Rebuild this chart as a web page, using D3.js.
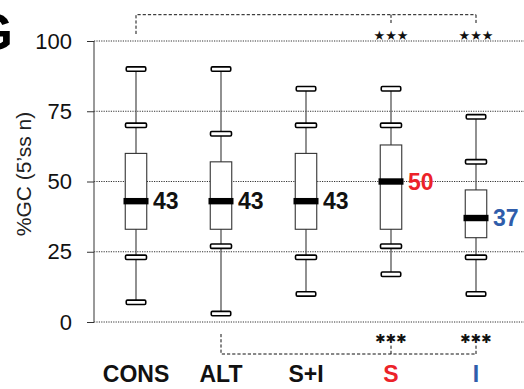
<!DOCTYPE html>
<html><head><meta charset="utf-8">
<script src="https://cdn.jsdelivr.net/npm/d3@7"></script>
<style>html,body{margin:0;padding:0;background:#fff;overflow:hidden}</style>
</head><body>
<svg id="c" width="524" height="389"></svg>
<script>
const categories = ["CONS","ALT","S+I","S","I"];
const whiskerLow  = [7, 3, 10, 17, 10];
const innerLow    = [23, 27, 23, 27, 23];
const q1          = [33, 33, 33, 33, 30];
const median      = [43, 43, 43, 50, 37];
const q3          = [60, 57, 60, 63, 47];
const innerHigh   = [70, 67, 70, 70, 57];
const whiskerHigh = [90, 90, 83, 83, 73];
const yTicks = [0, 25, 50, 75, 100];
const catColors = {"CONS":"#111","ALT":"#111","S+I":"#111","S":"#ec2229","I":"#2f5dab"};
const sigTopFrom = "CONS", sigTopTo = ["S","I"];
const sigBottomFrom = "ALT", sigBottomTo = ["S","I"];

const svg = d3.select("#c");
const x = d3.scalePoint().domain(categories).range([136, 476]);
const y = d3.scaleLinear().domain([0, 100]).range([322, 41]);
const font = "'Liberation Sans', Arial, Helvetica, sans-serif";

// gridlines (dotted)
svg.append("g").selectAll("line").data(yTicks).join("line")
  .attr("x1", 94).attr("x2", 524)
  .attr("y1", d => y(d)).attr("y2", d => y(d))
  .attr("stroke", "#333").attr("stroke-width", 1).attr("stroke-dasharray", "1.2,1.2");

// y axis
const yAxis = d3.axisLeft(y).tickValues(yTicks).tickSize(7).tickPadding(15).tickFormat(d3.format("d"));
const ag = svg.append("g").attr("transform", "translate(94,0)").call(yAxis);
ag.select(".domain").attr("stroke", "#555").attr("stroke-width", 1.2).attr("d", `M0,${y(100)}V${y(0)}`);
ag.selectAll(".tick line").attr("stroke", "#333").attr("stroke-width", 1);
ag.selectAll(".tick text").attr("font-family", font).attr("font-size", 22).attr("fill", "#111");

// y label
svg.append("text").attr("transform", `translate(31,${174}) rotate(-90)`)
  .attr("text-anchor", "middle").attr("font-family", font).attr("font-size", 21)
  .attr("fill", "#222").text("%GC (5\u2019ss n)");

// panel letter
svg.append("text").attr("x", 13).attr("y", 50).attr("text-anchor", "end")
  .attr("font-family", font).attr("font-weight", "bold").attr("font-size", 51)
  .attr("fill", "#000").text("G");

const data = categories.map((c, i) => ({c, wl: whiskerLow[i], il: innerLow[i], q1: q1[i], m: median[i], q3: q3[i], ih: innerHigh[i], wh: whiskerHigh[i]}));

const g = svg.append("g").selectAll("g").data(data).join("g")
  .attr("transform", d => `translate(${x(d.c)},0)`);

// whisker line
g.append("line").attr("x1", 0).attr("x2", 0)
  .attr("y1", d => y(d.wh)).attr("y2", d => y(d.wl))
  .attr("stroke", "#555").attr("stroke-width", 1.3);

// box
const bw = 21.5;
g.append("rect").attr("x", -bw/2).attr("width", bw)
  .attr("y", d => y(d.q3)).attr("height", d => y(d.q1) - y(d.q3))
  .attr("fill", "#fff").attr("stroke", "#333").attr("stroke-width", 1.1);

// median bar
g.append("rect").attr("x", -12.5).attr("width", 25)
  .attr("y", d => y(d.m) - 3.2).attr("height", 6.4).attr("fill", "#000");

// caps
function cap(key, w) {
  g.append("rect").attr("x", -w/2).attr("width", w)
    .attr("y", d => y(d[key]) - 2.2).attr("height", 4.4).attr("rx", 1.2)
    .attr("fill", "#fff").attr("stroke", "#000").attr("stroke-width", 1.6);
}
cap("wh", 19.5); cap("wl", 19.5); cap("ih", 21); cap("il", 21);

// median labels
g.append("text").attr("x", 17).attr("y", d => y(d.m)).attr("dy", "0.36em")
  .attr("font-family", font).attr("font-weight", "bold").attr("font-size", 23)
  .attr("fill", d => d.c === "S" || d.c === "I" ? catColors[d.c] : "#111")
  .text(d => d.m);

// category labels
svg.append("g").selectAll("text").data(categories).join("text")
  .attr("x", d => x(d)).attr("y", 382).attr("text-anchor", "middle")
  .attr("font-family", font).attr("font-weight", "bold").attr("font-size", 23)
  .attr("fill", d => catColors[d]).text(d => d);

// significance brackets
const dash = "3.2,2";
const br = svg.append("g").attr("stroke", "#111").attr("stroke-width", 1).attr("fill", "none").attr("stroke-dasharray", dash);
const topY = 14.7;
br.append("path").attr("d", `M${x(sigTopFrom)},34V${topY}H${x(sigTopTo[sigTopTo.length-1])}`);
sigTopTo.forEach(c => br.append("path").attr("d", `M${x(c)},${topY}V23`));
const botY = 354;
br.append("path").attr("d", `M${x(sigBottomFrom)},334V${botY}H${x(sigBottomTo[sigBottomTo.length-1])}`);
sigBottomTo.forEach(c => br.append("path").attr("d", `M${x(c)},${botY}V345`));

svg.append("g").selectAll("text").data(sigTopTo).join("text")
  .attr("x", d => x(d)).attr("y", 35).attr("dy", "0.35em").attr("text-anchor", "middle")
  .attr("font-family", "'DejaVu Sans', sans-serif").attr("font-size", 13).attr("fill", "#111")
  .text("\u2605\u2605\u2605");
svg.append("g").selectAll("text").data(sigBottomTo).join("text")
  .attr("x", d => x(d)).attr("y", 338.5).attr("dy", "0.35em").attr("text-anchor", "middle")
  .attr("font-family", "'DejaVu Sans', sans-serif").attr("font-size", 12.5).attr("fill", "#111")
  .text("\u2731\u2731\u2731");
</script>
</body></html>
